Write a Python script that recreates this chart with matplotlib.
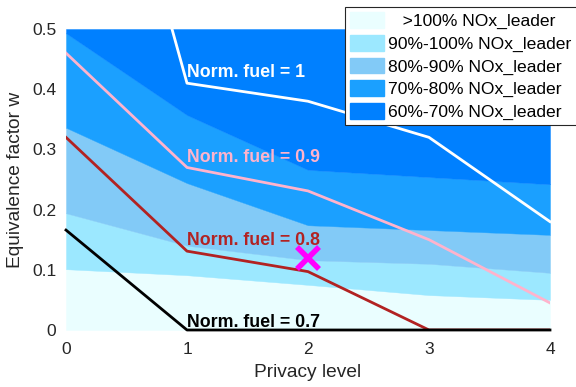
import matplotlib
matplotlib.use("Agg")
import matplotlib.pyplot as plt
from matplotlib.patches import Patch
import numpy as np

plt.rcParams['font.family'] = ['Liberation Sans', 'DejaVu Sans']

privacy = [0, 1, 2, 3, 4]
# Upper boundaries of NOx bands (equivalence factor w)
b100 = [0.101, 0.091, 0.075, 0.058, 0.050]
b90 = [0.194, 0.140, 0.116, 0.110, 0.095]
b80 = [0.336, 0.244, 0.174, 0.166, 0.158]
b70 = [0.493, 0.357, 0.266, 0.254, 0.242]
top = [0.5, 0.5, 0.5, 0.5, 0.5]

band_labels = ["   >100% NOx_leader", "90%-100% NOx_leader", "80%-90% NOx_leader",
               "70%-80% NOx_leader", "60%-70% NOx_leader"]
band_colors = ["#EAFEFF", "#9CE8FF", "#82CAF7", "#1BA0FF", "#0080FF"]

# Norm. fuel contour lines
fuel1_x = [0.876, 1, 2, 3, 4]
fuel1_y = [0.5, 0.41, 0.38, 0.32, 0.18]
fuel09_y = [0.46, 0.27, 0.231, 0.15, 0.045]
fuel08_y = [0.32, 0.131, 0.097, 0.0, 0.0]
fuel07_y = [0.166, 0.0, 0.0, 0.0, 0.0]

marker_x = [2]
marker_y = [0.12]

fig = plt.figure(figsize=(5.76, 3.87), dpi=100)
ax = fig.add_axes([66/576, 1-330/387, (550-66)/576, (330-29)/387])

bounds = [[0]*5, b100, b90, b80, b70, top]
for i in range(5):
    ax.fill_between(privacy, bounds[i], bounds[i+1], color=band_colors[i],
                    linewidth=0.3, edgecolor=band_colors[i], zorder=1)

ax.plot(fuel1_x, fuel1_y, color="white", lw=2, zorder=3, clip_on=False)
ax.plot(privacy, fuel09_y, color="#FFB3CC", lw=2, zorder=3)
ax.plot(privacy, fuel08_y, color="#B22222", lw=2, zorder=3)
ax.plot(privacy, fuel07_y, color="black", lw=2, zorder=4, clip_on=False)

ax.plot(marker_x, marker_y, marker='x', color="#FF00FF", ms=16, mew=4, zorder=5,
        linestyle='none')

tkw = dict(fontsize=12.8, fontweight='bold', ha='left', va='center', zorder=6)
ax.text(1.0, 0.428, "Norm. fuel = 1", color="white", **tkw)
ax.text(1.0, 0.287, "Norm. fuel = 0.9", color="#FFB3CC", **tkw)
ax.text(1.0, 0.148, "Norm. fuel = 0.8", color="#B22222", **tkw)
ax.text(1.0, 0.013, "Norm. fuel = 0.7", color="black", **tkw)

ax.set_xlim(0, 4)
ax.set_ylim(0, 0.5)
ax.set_xticks([0, 1, 2, 3, 4])
ax.set_yticks([0, 0.1, 0.2, 0.3, 0.4, 0.5])
ax.set_yticklabels(["0", "0.1", "0.2", "0.3", "0.4", "0.5"])
ax.tick_params(labelsize=12.5, length=0, colors="#262626", pad=7)
ax.tick_params(axis='x', pad=9)
for s in ax.spines.values():
    s.set_visible(False)
ax.set_xlabel("Privacy level", fontsize=13.8, color="#262626", labelpad=5)
ax.set_ylabel("Equivalence factor w", fontsize=13.8, color="#262626", labelpad=6)

handles = [Patch(facecolor=c, edgecolor=c) for c in band_colors]
leg = fig.legend(handles, band_labels, loc='upper right', bbox_to_anchor=(577/576, 1-7/387),
                 prop={'size': 12.6}, frameon=True, fancybox=False, edgecolor="#262626",
                 framealpha=1, handlelength=1.95, handleheight=1.02, borderpad=0.3,
                 labelspacing=0.32, handletextpad=0.25, borderaxespad=0)
leg.get_frame().set_linewidth(0.8)
leg.set_zorder(10)

fig.savefig("out.png", dpi=100)
